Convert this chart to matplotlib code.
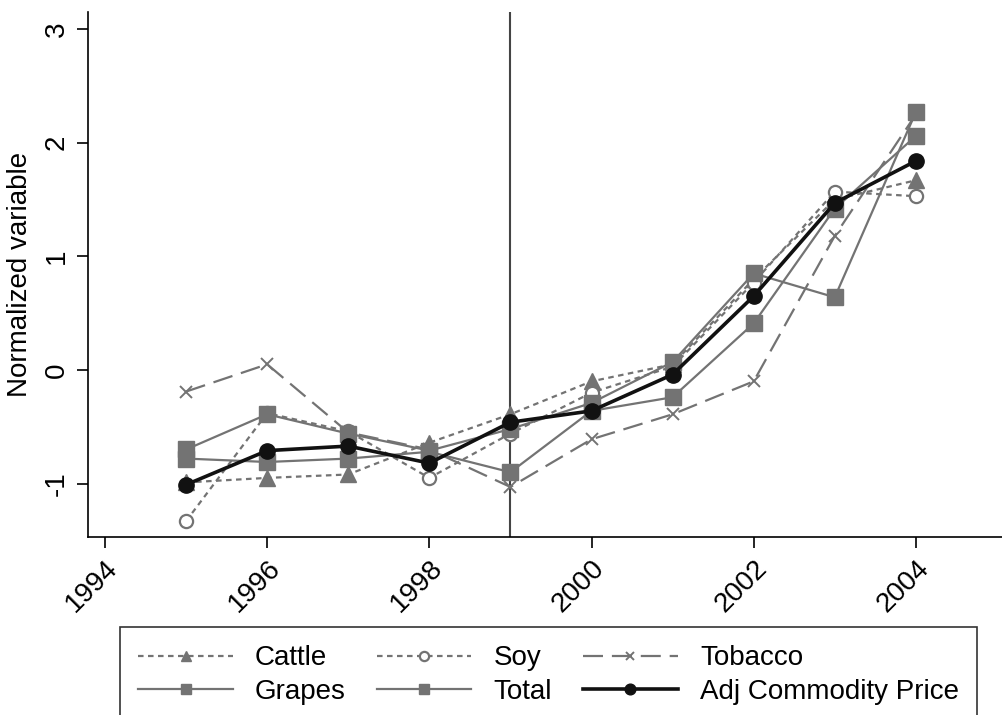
import numpy as np
import matplotlib
matplotlib.use("Agg")
import matplotlib.pyplot as plt

plt.rcParams['font.family'] = ['Liberation Sans', 'DejaVu Sans']

years = [1995, 1996, 1997, 1998, 1999, 2000, 2001, 2002, 2003, 2004]
cattle = [-0.99, -0.95, -0.92, -0.64, -0.39, -0.10, 0.05, 0.80, 1.50, 1.67]
soy = [-1.33, -0.38, -0.54, -0.95, -0.56, -0.20, 0.03, 0.77, 1.57, 1.53]
tobacco = [-0.19, 0.05, -0.55, -0.70, -1.03, -0.61, -0.39, -0.10, 1.18, 2.25]
grapes = [-0.70, -0.39, -0.56, -0.71, -0.52, -0.29, 0.07, 0.85, 0.64, 2.27]
total = [-0.78, -0.81, -0.78, -0.72, -0.90, -0.36, -0.24, 0.41, 1.42, 2.06]
adj_price = [-1.01, -0.71, -0.67, -0.82, -0.46, -0.36, -0.04, 0.65, 1.47, 1.84]

xticks = [1994, 1996, 1998, 2000, 2002, 2004]
yticks = [-1, 0, 1, 2, 3]

grey = "#737373"
fs = 20

fig = plt.figure(figsize=(10.02, 7.15), dpi=100)
ax = fig.add_axes([0.0878, 0.249, 0.912, 0.734])

ax.axvline(1999, color="#444444", lw=1.5, zorder=1)

h_cattle, = ax.plot(years, cattle, color=grey, lw=1.6, ls=(0, (2.5, 2)),
                    marker="^", ms=11, label="Cattle")
h_soy, = ax.plot(years, soy, color=grey, lw=1.6, ls=(0, (2.5, 2)),
                 marker="o", ms=9.5, mfc="white", mew=1.6, label="Soy")
h_tob, = ax.plot(years, tobacco, color=grey, lw=1.6, ls=(0, (9, 4)),
                 marker="x", ms=8, mew=1.4, label="Tobacco")
h_grapes, = ax.plot(years, grapes, color=grey, lw=1.6, marker="s", ms=11,
                    label="Grapes")
h_total, = ax.plot(years, total, color=grey, lw=1.6, marker="s", ms=11,
                   label="Total")
h_adj, = ax.plot(years, adj_price, color="#111111", lw=2.6, marker="o", ms=11,
                 label="Adj Commodity Price", zorder=5)

ax.set_xlim(1993.79, 2005.06)
ax.set_ylim(-1.47, 3.15)
ax.set_xticks(xticks)
ax.set_yticks(yticks)
ax.set_xticklabels([str(t) for t in xticks], rotation=45, ha="right",
                   rotation_mode="anchor", fontsize=fs)
ax.set_yticklabels([str(t) for t in yticks], rotation=90, va="center",
                   fontsize=fs)
ax.tick_params(direction="out", length=8, width=1.2, pad=5)
ax.spines["top"].set_visible(False)
ax.spines["right"].set_visible(False)
ax.spines["left"].set_linewidth(1.2)
ax.spines["bottom"].set_linewidth(1.2)
ax.set_ylabel("Normalized variable", fontsize=fs, labelpad=8)

handles = [h_cattle, h_grapes, h_soy, h_total, h_tob, h_adj]
leg = fig.legend(handles, [h.get_label() for h in handles], ncol=3,
                 loc="lower left", bbox_to_anchor=(0.12, -0.0115, 0.855, 0.12),
                 mode="expand", fontsize=fs, handlelength=3.4,
                 markerscale=0.7, fancybox=False, frameon=True,
                 edgecolor="black", borderpad=0.65, labelspacing=0.28,
                 columnspacing=1.2, handletextpad=0.8, borderaxespad=0)
leg.get_frame().set_linewidth(1.2)

fig.savefig("out.png", dpi=100)
